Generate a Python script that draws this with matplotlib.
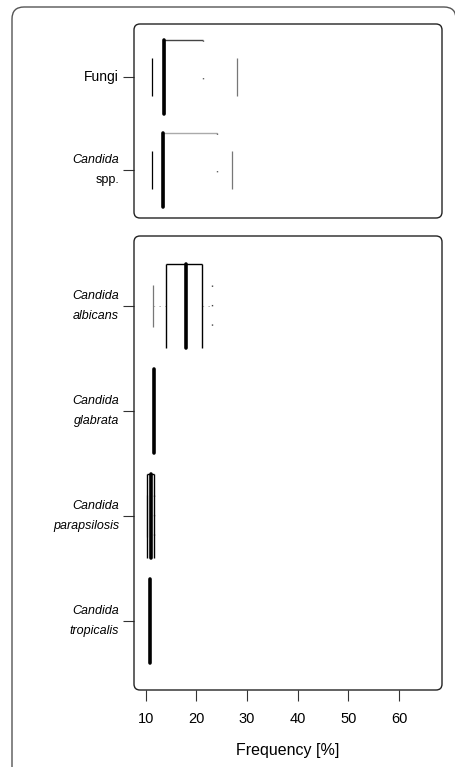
import numpy as np
import matplotlib.pyplot as plt
from matplotlib.patches import FancyBboxPatch
from matplotlib.transforms import IdentityTransform

plt.rcParams['font.family'] = ['Liberation Sans', 'DejaVu Sans']

# Frequency [%] per group: lower cap, box left, median, box right, upper cap
top_line1 = ['Fungi', 'Candida']
top_line2 = ['', 'spp.']
top_lo = [11.3, 11.3]
top_q1 = [13.6, 13.5]
top_med = [13.6, 13.5]
top_q3 = [21.4, 24.0]
top_hi = [28.1, 27.1]

bot_line1 = ['Candida', 'Candida', 'Candida', 'Candida']
bot_line2 = ['albicans', 'glabrata', 'parapsilosis', 'tropicalis']
bot_lo = [11.5, 11.7, 10.3, 10.9]
bot_q1 = [14.0, 11.7, 10.3, 10.9]
bot_med = [17.9, 11.7, 11.0, 10.9]
bot_q3 = [21.1, 11.7, 11.7, 10.9]
bot_hi = [23.0, 11.7, 11.7, 10.9]

xticks = [10, 20, 30, 40, 50, 60]

W, H = 455, 767
fig = plt.figure(figsize=(W / 100, H / 100), dpi=100)


def px_axes(left, top, right, bottom):
    return fig.add_axes([left / W, 1 - bottom / H, (right - left) / W, (bottom - top) / H])


def round_box(left, top, right, bottom, r, color='#222222', lw=1.0):
    p = FancyBboxPatch((left, H - bottom), right - left, bottom - top,
                       boxstyle='round,pad=0,rounding_size=%g' % r,
                       transform=IdentityTransform(), fill=False,
                       ec=color, lw=lw)
    fig.add_artist(p)


def draw_rows(ax, lo, q1, med, q3, hi, edge_ls, cap_ls, top_colors, whiskers):
    y = np.arange(1, len(med) + 1)
    for i in range(len(med)):
        yi = y[i]
        if q3[i] > q1[i]:
            if whiskers:
                ax.hlines(yi, lo[i], q1[i], color='#aaaaaa', lw=0.6, ls=(0, (2, 5)))
                ax.hlines(yi, q3[i], hi[i], color='#aaaaaa', lw=0.6, ls=(0, (2, 5)))
            # caps
            ax.vlines(lo[i], yi - 0.2, yi + 0.2, color='#777777' if edge_ls == '-' else 'black', lw=0.9)
            ax.vlines(hi[i], yi - 0.2, yi + 0.2, color='#444444' if cap_ls == ':' else '#777777',
                      lw=0.9 if cap_ls != ':' else 1.0,
                      ls='-' if cap_ls == '-' else (0, (1, 13)))
            # box (no bottom edge)
            ax.hlines(yi - 0.4, q1[i], q3[i], color=top_colors[i], lw=1.0)
            ax.vlines(q1[i], yi - 0.4, yi + 0.4, color='black', lw=1.0)
            ax.vlines(q3[i], yi - 0.4, yi + 0.4, color='#666666' if edge_ls != '-' else 'black',
                      lw=1.0, ls='-' if edge_ls == '-' else (0, (1, 26)))
        ax.vlines(med[i], yi - 0.4, yi + 0.4, color='black', lw=2.6, capstyle='round')
    ax.set_yticks(y)
    ax.set_yticklabels([''] * len(y))


def left_labels(ax, line1, line2, italic2):
    tr = ax.get_yaxis_transform()
    for i in range(len(line1)):
        yi = i + 1
        if line2[i]:
            ax.annotate(line1[i], xy=(0, yi), xycoords=tr, xytext=(-15, 10),
                        textcoords='offset pixels', ha='right', va='center',
                        fontsize=9, style='italic', annotation_clip=False)
            ax.annotate(line2[i], xy=(0, yi), xycoords=tr, xytext=(-15, -10),
                        textcoords='offset pixels', ha='right', va='center',
                        fontsize=9, style='italic' if italic2[i] else 'normal',
                        annotation_clip=False)
        else:
            ax.annotate(line1[i], xy=(0, yi), xycoords=tr, xytext=(-15, 0),
                        textcoords='offset pixels', ha='right', va='center',
                        fontsize=10, annotation_clip=False)


# outer frame (right and bottom edges run off the picture)
round_box(12, 7, 456, 800, 12, color='#555555', lw=1.0)

ax1 = px_axes(134, 24, 442, 218)
ax2 = px_axes(134, 236, 442, 690)

for ax in (ax1, ax2):
    for s in ax.spines.values():
        s.set_visible(False)
    ax.set_xlim(7.69, 68.5)
    ax.tick_params(axis='y', length=8, width=0.8, color='#333333')

draw_rows(ax1, top_lo, top_q1, top_med, top_q3, top_hi, ':', '-', ['#444444', '#aaaaaa'], False)
ax1.set_ylim(2.516, 0.43)
ax1.tick_params(axis='x', bottom=False, labelbottom=False)
left_labels(ax1, top_line1, top_line2, [False, False])

draw_rows(ax2, bot_lo, bot_q1, bot_med, bot_q3, bot_hi, '-', ':', ['black'] * 4, True)
ax2.set_ylim(4.657, 0.333)
ax2.set_xticks(xticks)
ax2.set_xticklabels([str(t) for t in xticks], fontsize=10.5)
ax2.tick_params(axis='x', length=8, width=0.8, pad=8, color='#333333')
left_labels(ax2, bot_line1, bot_line2, [True] * 4)

round_box(134, 24, 442, 218, 6)
round_box(134, 236, 442, 690, 6)

fig.text(288 / W, 1 - 750 / H, 'Frequency [%]', ha='center', va='center', fontsize=11.5)

fig.savefig('out.png', dpi=100)
